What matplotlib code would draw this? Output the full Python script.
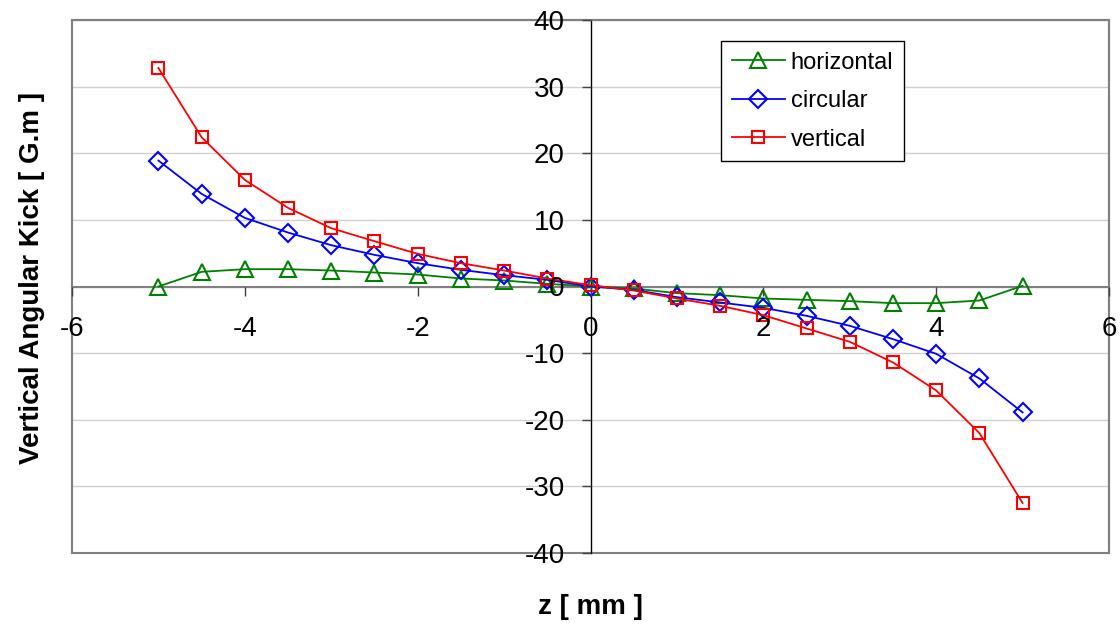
import numpy as np
import matplotlib.pyplot as plt
import matplotlib.patches as mpatches

plt.rcParams['font.family'] = ['Liberation Sans', 'DejaVu Sans']

# ── Data ────────────────────────────────────────────────────────────────────
z = [-5, -4.5, -4, -3.5, -3, -2.5, -2, -1.5, -1, -0.5, 0,
     0.5, 1, 1.5, 2, 2.5, 3, 3.5, 4, 4.5, 5]
kick_horizontal = [0.0, 2.2, 2.6, 2.6, 2.4, 2.1, 1.8, 1.2, 0.9, 0.4, 0.0,
                   -0.3, -1.0, -1.3, -1.8, -2.0, -2.2, -2.5, -2.5, -2.1, 0.1]
kick_circular = [18.9, 13.9, 10.3, 8.1, 6.2, 4.75, 3.5, 2.5, 1.7, 1.0, 0.0,
                 -0.5, -1.6, -2.4, -3.2, -4.4, -5.9, -7.9, -10.1, -13.8, -18.9]
kick_vertical = [32.8, 22.4, 16.0, 11.8, 8.75, 6.8, 4.9, 3.5, 2.4, 1.2, 0.2,
                 -0.6, -1.8, -2.9, -4.3, -6.3, -8.3, -11.4, -15.6, -22.0, -32.5]

x_ticks = [-6, -4, -2, 0, 2, 4, 6]
y_ticks = [-40, -30, -20, -10, 0, 10, 20, 30, 40]

# ── Figure ──────────────────────────────────────────────────────────────────
fig = plt.figure(figsize=(11.2, 6.27), dpi=100)
ax = fig.add_axes([72 / 1120, 1 - 553 / 627, (1109 - 72) / 1120, (553 - 20) / 627])

ax.set_xlim(-6, 6)
ax.set_ylim(-40, 40)

# horizontal gridlines
for yv in y_ticks:
    ax.axhline(yv, color="#d0d0d0", lw=1.0, zorder=0)

ax.plot(z, kick_horizontal, color="#008000", lw=1.3, marker="^", ms=11,
        mfc="none", mec="#008000", mew=1.5, label="horizontal", zorder=3)
ax.plot(z, kick_circular, color="#0000ff", lw=1.3, marker="D", ms=9,
        mfc="none", mec="#0000ff", mew=1.5, label="circular", zorder=3)
ax.plot(z, kick_vertical, color="#ff0000", lw=1.3, marker="s", ms=8,
        mfc="none", mec="#ff0000", mew=1.5, label="vertical", zorder=4)

# axes crossing at zero
ax.spines["left"].set_position(("data", 0))
ax.spines["left"].set_color("black")
ax.spines["left"].set_linewidth(1.0)
ax.spines["bottom"].set_position(("data", 0))
ax.spines["bottom"].set_color("#808080")
ax.spines["bottom"].set_linewidth(1.5)
for s in ["top", "right"]:
    ax.spines[s].set_color("#808080")
    ax.spines[s].set_linewidth(1.5)

# outer frame of the plot area
frame = mpatches.Rectangle((0, 0), 1, 1, transform=ax.transAxes, fill=False,
                           edgecolor="#808080", lw=1.5, clip_on=False, zorder=1)
ax.add_patch(frame)

ax.set_xticks(x_ticks)
ax.set_yticks(y_ticks)
ax.set_xticklabels([str(t) for t in x_ticks])
ax.set_yticklabels([str(t) for t in y_ticks])
ax.tick_params(axis="x", direction="out", length=6.5, width=1, color="#404040",
               labelsize=20, pad=15)
ax.tick_params(axis="y", direction="out", length=6.5, width=1, color="#404040",
               labelsize=20, pad=12)
# tick labels sit on top of the curves
ax.xaxis.set_zorder(5)
ax.yaxis.set_zorder(5)

fig.text(590 / 1120, 1 - 607 / 627, "z [ mm ]", ha="center", va="center",
         fontsize=20, fontweight="bold")
fig.text(32 / 1120, 1 - 278 / 627, "Vertical Angular Kick [ G.m ]", ha="center",
         va="center", rotation=90, fontsize=20, fontweight="bold")

leg = ax.legend(loc="upper left", bbox_to_anchor=(721 / 1120, 1 - 41 / 627),
                bbox_transform=fig.transFigure, fontsize=17, frameon=True,
                fancybox=False, framealpha=1, edgecolor="black",
                handlelength=2.25, handletextpad=0.25, labelspacing=0.7,
                borderpad=0.45, borderaxespad=0)
leg.get_frame().set_linewidth(1.0)
leg.set_zorder(6)

fig.savefig("out.png", dpi=100)
